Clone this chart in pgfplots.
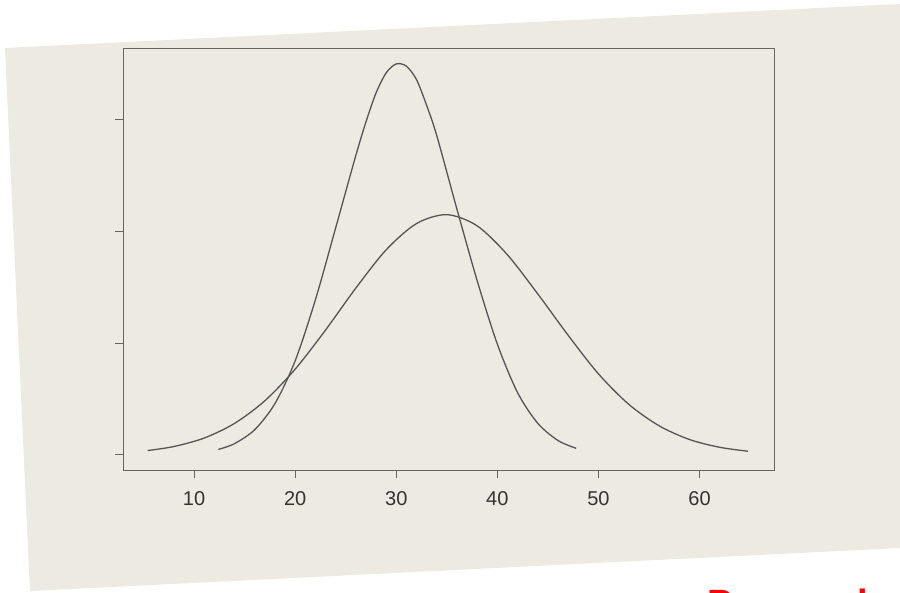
\documentclass[border=0pt]{standalone}
\usepackage{fontspec}
\setmainfont{Liberation Sans}
\usepackage{pgfplots}
\pgfplotsset{compat=1.18}
\definecolor{paper}{HTML}{EDEAE1}
\definecolor{ink}{HTML}{555555}
\definecolor{frame}{HTML}{66665F}
\begin{document}
\begin{tikzpicture}[x=1pt,y=1pt]
\useasboundingbox (0,0) rectangle (900,592);
\fill[white] (0,0) rectangle (900,592);
\fill[paper] (5,544) -- (900,588) -- (900,44) -- (30,1) -- cycle;
\begin{axis}[at={(122,109)}, anchor=south west,
  scale only axis, width=651pt, height=422pt,
  xmin=3, xmax=67.4, ymin=-0.14, ymax=3.64,
  xtick={10,20,...,60}, ytick={0,1,2,3}, yticklabels={},
  tick pos=left, tick align=outside, major tick length=8pt,
  axis line style={frame, line width=1pt},
  tick style={frame, line width=1pt},
  ticklabel style={font=\fontsize{20}{24}\selectfont, text=black!80},
  xticklabel style={yshift=-10pt},
  /pgf/number format/assume math mode=true,
]
% wide curve
\addplot[ink, line width=1.3pt, smooth, no marks] coordinates {
  (5.4,0.037) (8,0.073) (11,0.149) (14,0.28) (17,0.483) (20,0.766)
  (23,1.116) (26,1.492) (29,1.835) (32,2.07) (35,2.15) (38,2.05)
  (41,1.79) (44,1.44) (47,1.07) (50,0.724) (53,0.451) (56,0.259)
  (59,0.136) (62,0.066) (64.8,0.031)};
% narrow curve
\addplot[ink, line width=1.3pt, smooth, no marks] coordinates {
  (12.4,0.047) (14,0.099) (16,0.224) (18,0.458) (20,0.841) (22,1.387)
  (24,2.03) (26,2.68) (27,2.98) (28,3.24) (29,3.42) (30,3.50) (31,3.48)
  (32,3.36) (33,3.13) (34,2.86) (36,2.20) (38,1.56) (40,0.99) (42,0.556)
  (44,0.281) (46,0.127) (47.8,0.057)};
\end{axis}
\node[text=red, font=\fontsize{38}{40}\selectfont\bfseries, anchor=base west, inner sep=0pt] at (707,-24) {Personal};
\end{tikzpicture}
\end{document}
